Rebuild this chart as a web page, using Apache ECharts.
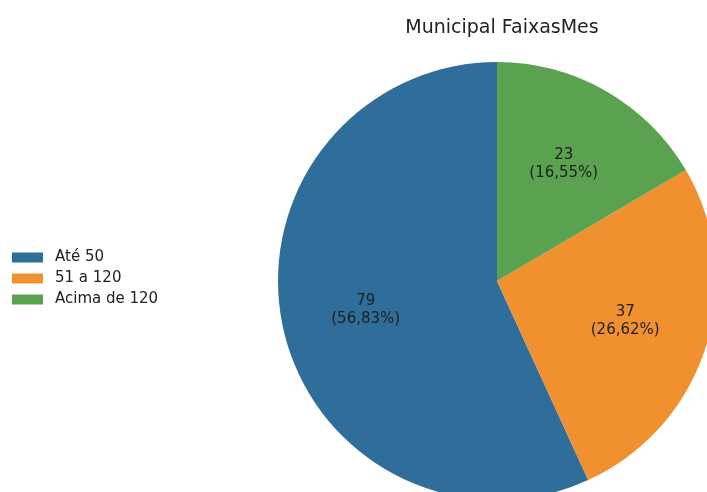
<!DOCTYPE html>
<html>
<head>
<meta charset="utf-8">
<script src="https://cdn.jsdelivr.net/npm/echarts@6/dist/echarts.min.js"></script>
<style>
  html, body { margin: 0; padding: 0; background: #fff; }
  #chart { width: 707px; height: 492px; }
</style>
</head>
<body>
<div id="chart"></div>
<script>
// Faixas de consumo mensal (municipal)
const categories = ['Até 50', '51 a 120', 'Acima de 120'];
const counts = [79, 37, 23];
const colors = ['#2f6e9b', '#f0902f', '#5aa250'];

const total = counts.reduce((a, b) => a + b, 0);
const pieData = categories.map((name, i) => ({
  name: name,
  value: counts[i],
  itemStyle: { color: colors[i] }
}));

function pctLabel(p) {
  const pct = (p.value / total * 100).toFixed(2).replace('.', ',');
  return p.value + '\n(' + pct + '%)';
}

const center = [497, 281];
const R = 219;
const font = 'DejaVu Sans';

const chart = echarts.init(document.getElementById('chart'), null, { renderer: 'canvas' });
chart.setOption({
  animation: false,
  title: {
    text: 'Municipal FaixasMes',
    left: 497,
    textAlign: 'center',
    top: 14,
    textStyle: { fontFamily: font, fontSize: 19, fontWeight: 'normal', color: '#222' }
  },
  legend: {
    orient: 'vertical',
    left: 12,
    top: 250,
    padding: 0,
    itemWidth: 31,
    itemHeight: 10,
    itemGap: 6,
    icon: 'rect',
    data: categories,
    textStyle: { fontFamily: font, fontSize: 15, color: '#222', padding: [0, 0, 0, 7] }
  },
  series: [
    {
      type: 'pie',
      center: center,
      radius: [0, R],
      startAngle: 90,
      clockwise: false,
      data: pieData,
      label: { show: false },
      labelLine: { show: false },
      emphasis: { disabled: true }
    },
    {
      // label ring: midpoint of [0.2R, R] sits at 0.6R
      type: 'pie',
      center: center,
      radius: [0.2 * R, R],
      startAngle: 90,
      clockwise: false,
      silent: true,
      legendHoverLink: false,
      data: pieData.map(d => ({ name: d.name, value: d.value, itemStyle: { color: 'rgba(0,0,0,0)' } })),
      label: {
        show: true,
        position: 'inside',
        formatter: pctLabel,
        fontFamily: font,
        fontSize: 15,
        lineHeight: 18,
        color: '#1e1e1e',
        align: 'center'
      },
      labelLine: { show: false },
      emphasis: { disabled: true }
    }
  ]
});
</script>
</body>
</html>
